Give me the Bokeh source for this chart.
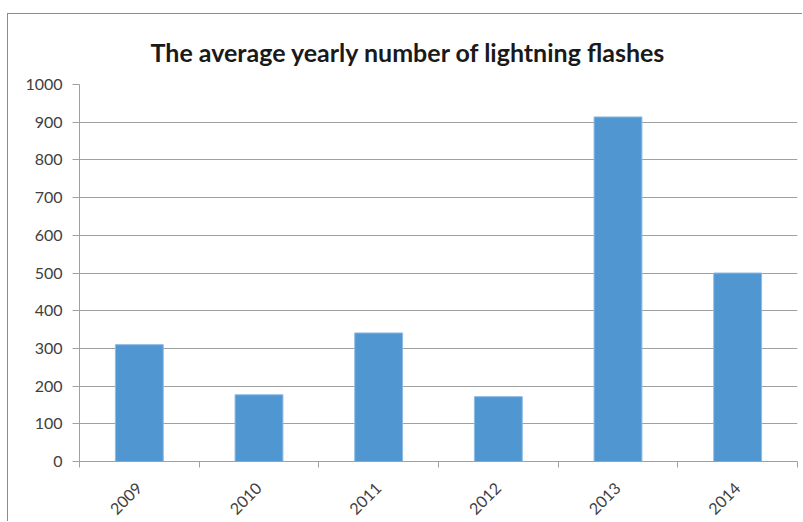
import math
from bokeh.plotting import figure
from bokeh.models import FixedTicker, ColumnDataSource, Range1d
from bokeh.embed import file_html
from bokeh.resources import INLINE

years = ["2009", "2010", "2011", "2012", "2013", "2014"]
flashes = [310, 177, 341, 172, 914, 500]
y_ticks = [0, 100, 200, 300, 400, 500, 600, 700, 800, 900, 1000]

xpos = [i + 0.5 for i in range(len(years))]
src = ColumnDataSource(dict(x=xpos, top=flashes))

p = figure(width=795, height=508, output_backend="svg", toolbar_location=None,
           x_range=Range1d(0, len(years)), y_range=Range1d(0, 1000),
           min_border_left=71, min_border_right=6, min_border_top=70, min_border_bottom=61,
           title="The average yearly number of lightning flashes")
p.styles = {"margin-top": "13px", "margin-left": "7px",
            "border-top": "1px solid #8c8c8c", "border-left": "1px solid #8c8c8c"}
p.outline_line_color = None

p.title.align = "left"
p.title.text_font = "Lato"
p.title.text_font_style = "bold"
p.title.text_font_size = "25px"
p.title.text_color = "#1a1a1a"
p.title.standoff = 35
p.title.offset = 71

p.vbar(x="x", top="top", width=0.4, bottom=0, source=src, fill_color="#5097D2", line_color="#8dbbe3", line_width=1)

gray = "#a0a0a0"
p.yaxis.ticker = FixedTicker(ticks=y_ticks)
p.yaxis.axis_line_color = gray
p.yaxis.major_tick_line_color = gray
p.yaxis.major_tick_out = 7
p.yaxis.major_tick_in = 0
p.yaxis.minor_tick_line_color = None
p.yaxis.major_label_text_font = "Lato"
p.yaxis.major_label_text_font_size = "16px"
p.yaxis.major_label_text_color = "#404040"
p.yaxis.major_label_standoff = 10

p.xaxis.ticker = FixedTicker(ticks=xpos, minor_ticks=list(range(len(years) + 1)))
p.xaxis.major_label_overrides = {x: y for x, y in zip(xpos, years)}
p.xaxis.axis_line_color = gray
p.xaxis.major_tick_line_color = None
p.xaxis.major_tick_out = 0
p.xaxis.major_tick_in = 0
p.xaxis.minor_tick_line_color = gray
p.xaxis.minor_tick_out = 6
p.xaxis.minor_tick_in = 0
p.xaxis.major_label_orientation = math.pi / 4
p.xaxis.major_label_text_font = "Lato"
p.xaxis.major_label_text_font_size = "16px"
p.xaxis.major_label_text_color = "#404040"
p.xaxis.major_label_standoff = 18

p.xgrid.grid_line_color = None
p.ygrid.ticker = FixedTicker(ticks=y_ticks)
p.ygrid.grid_line_color = gray
p.ygrid.grid_line_width = 1.2

open("out.html", "w").write(file_html(p, INLINE))
